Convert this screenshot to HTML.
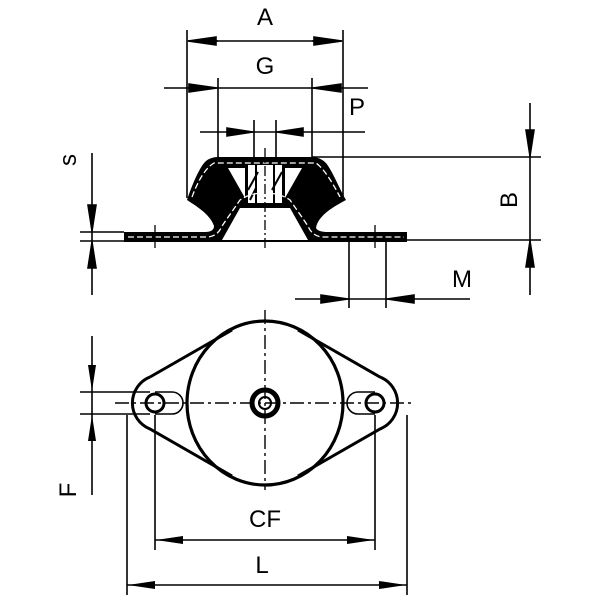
<!DOCTYPE html>
<html><head><style>
body{margin:0;background:#fff}
svg{display:block}
text{font-family:"Liberation Sans",sans-serif;font-size:24px;fill:#000}
</style></head><body>
<svg width="600" height="600" viewBox="0 0 600 600" xmlns="http://www.w3.org/2000/svg">
<defs>
<marker id="ar" viewBox="0 0 10 6" refX="10" refY="3" markerWidth="10" markerHeight="6" markerUnits="userSpaceOnUse" orient="auto"><path d="M0,0 L10,3 L0,6 z" fill="#000"/></marker>
</defs>
<g stroke="#000" stroke-width="1.6" fill="none">
<!-- A -->
<line x1="187" y1="30" x2="187" y2="198"/><line x1="343" y1="30" x2="343" y2="198"/>
<line x1="218" y1="41" x2="188" y2="41"/><line x1="312" y1="41" x2="342" y2="41"/>
<path d="M188,41 l28,-4 v8 z M342,41 l-28,-4 v8 z" fill="#000"/>
<line x1="215" y1="41" x2="315" y2="41"/>
<!-- G -->
<line x1="218" y1="78" x2="218" y2="158"/><line x1="312" y1="78" x2="312" y2="158"/>
<line x1="164" y1="88" x2="368" y2="88"/>
<path d="M217,88 l-28,-4 v8 z M313,88 l28,-4 v8 z" fill="#000"/>
<!-- P -->
<line x1="254" y1="120" x2="254" y2="200"/><line x1="276" y1="120" x2="276" y2="200"/>
<line x1="200" y1="132" x2="365" y2="132"/>
<path d="M253,132 l-26,-4 v8 z M277,132 l26,-4 v8 z" fill="#000"/>
<!-- B -->
<line x1="312" y1="157" x2="541" y2="157"/><line x1="340" y1="240" x2="541" y2="240"/>
<line x1="530" y1="103" x2="530" y2="295"/>
<path d="M530,156 l-4,-26 h8 z M530,241 l-4,26 h8 z" fill="#000"/>
<!-- s -->
<line x1="92" y1="153" x2="92" y2="295"/>
<line x1="80" y1="232" x2="124" y2="232"/><line x1="80" y1="241" x2="124" y2="241"/>
<path d="M92,231 l-4,-26 h8 z M92,242 l-4,26 h8 z" fill="#000"/>
<!-- M -->
<line x1="349" y1="240" x2="349" y2="308"/><line x1="386" y1="240" x2="386" y2="308"/>
<line x1="295" y1="299" x2="470" y2="299"/>
<path d="M348,299 l-27,-4 v8 z M387,299 l27,-4 v8 z" fill="#000"/>
</g>
<!-- side body -->
<rect x="124" y="232" width="283" height="10" fill="#000"/>
<path d="M187,200 C192,185 200,166 206,161 Q211,157 218,157 L312,157 Q320,157 326,163 C333,172 340,190 346,200 C335,206 318,215 316,228 Q318,232 328,232 L205,232 Q214,232 214,226 C210,214 196,206 187,200 z" fill="#000"/>
<path d="M240,208 L290,208 L308,240 L222,240 z" fill="#fff"/>
<path d="M228,168 L245,168 L245,198 z M302,168 L285,168 L285,198 z" fill="#fff"/>
<rect x="248" y="165" width="34" height="38" fill="#fff"/>
<g stroke="#000" stroke-width="2"><line x1="256" y1="165" x2="256" y2="203"/><line x1="274" y1="165" x2="274" y2="203"/><line x1="248" y1="190" x2="258" y2="172"/><line x1="272" y1="190" x2="282" y2="172"/><line x1="250" y1="200" x2="256" y2="188"/></g>
<g stroke="#fff" stroke-width="1.3" fill="none" stroke-dasharray="6,3">
<path d="M128,237 L208,237 Q218,236 222,226 L240,200 Q250,193 265,193 Q280,193 290,200 L308,226 Q312,236 322,237 L404,237"/>
<path d="M192,197 Q202,170 214,163 L316,163 Q326,170 340,197"/>
</g>
<g stroke="#000" stroke-width="1.3"><line x1="155" y1="225" x2="155" y2="248"/><line x1="375" y1="225" x2="375" y2="248"/><line x1="265" y1="148" x2="265" y2="250" stroke-dasharray="10,3,2,3"/></g>
<!-- bottom view -->
<g stroke="#000" fill="none">
<path d="M150,377 L232,330 M298,330 L380,377 A28,28 0 0 1 380,429 L298,476 M232,476 L150,429 A28,28 0 0 1 150,377" stroke-width="3"/>
<ellipse cx="265" cy="403" rx="78" ry="82" stroke-width="3.2"/>
<path d="M155,392 H172 A11,11 0 0 1 172,414 H155" stroke-width="1.6"/>
<path d="M375,392 H358 A11,11 0 0 0 358,414 H375" stroke-width="1.6"/>
<circle cx="155" cy="403" r="9" stroke-width="3"/>
<circle cx="375" cy="403" r="9" stroke-width="3"/>
<circle cx="265" cy="403" r="13" stroke-width="5"/>
<circle cx="265" cy="403" r="6" stroke-width="2"/>
<g stroke-width="1.4" stroke-dasharray="14,4,3,4">
<line x1="115" y1="403" x2="415" y2="403"/><line x1="265" y1="310" x2="265" y2="490"/>
</g>
<g stroke-width="1.6">
<line x1="92" y1="336" x2="92" y2="495"/>
<line x1="80" y1="392" x2="150" y2="392"/><line x1="80" y1="414" x2="150" y2="414"/>
<line x1="155" y1="415" x2="155" y2="550"/><line x1="375" y1="415" x2="375" y2="550"/>
<line x1="127" y1="415" x2="127" y2="595"/><line x1="407" y1="415" x2="407" y2="595"/>
<line x1="155" y1="540" x2="375" y2="540"/><line x1="127" y1="585" x2="407" y2="585"/>
</g>
<path d="M92,391 l-4,-26 h8 z M92,415 l-4,26 h8 z M156,540 l27,-4 v8 z M374,540 l-27,-4 v8 z M128,585 l27,-4 v8 z M406,585 l-27,-4 v8 z" fill="#000" stroke="none"/>
</g>
<text x="265" y="25" text-anchor="middle">A</text>
<text x="265" y="74" text-anchor="middle">G</text>
<text x="357" y="115" text-anchor="middle">P</text>
<text x="462" y="287" text-anchor="middle">M</text>
<text x="265" y="527" text-anchor="middle">CF</text>
<text x="262" y="573" text-anchor="middle">L</text>
<text transform="translate(76,160) rotate(-90)" text-anchor="middle">s</text>
<text transform="translate(517,200) rotate(-90)" text-anchor="middle">B</text>
<text transform="translate(76,490) rotate(-90)" text-anchor="middle">F</text>
</svg>
</body></html>
